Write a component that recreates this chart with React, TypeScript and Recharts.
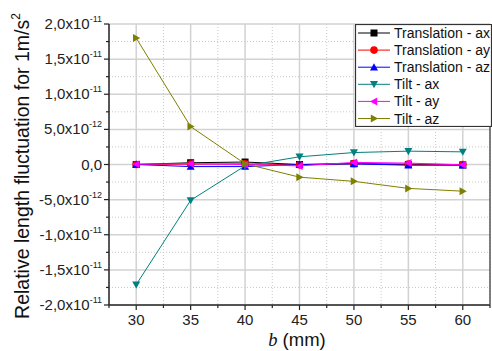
import { CartesianGrid, Legend, Line, LineChart, XAxis, YAxis } from "recharts";

const bValues = [30, 35, 40, 45, 50, 55, 60];

// values in units of 1e-12
const translationAx = [0.0, 0.25, 0.35, 0.0, 0.1, 0.0, -0.05];
const translationAy = [0.0, 0.05, 0.1, -0.05, 0.15, 0.05, 0.0];
const translationAz = [0.0, -0.3, -0.3, 0.0, 0.1, -0.1, -0.1];
const tiltAx = [-17.1, -5.1, -0.2, 1.1, 1.7, 1.9, 1.8];
const tiltAy = [0.05, 0.1, 0.0, -0.2, 0.3, 0.2, -0.05];
const tiltAz = [18.0, 5.4, 0.1, -1.8, -2.4, -3.4, -3.8];

const xMajorTicks = [30, 35, 40, 45, 50, 55, 60];
const xMinorTicks = [27.5, 32.5, 37.5, 42.5, 47.5, 52.5, 57.5, 62.5];
const yMajorTicks = [-20, -15, -10, -5, 0, 5, 10, 15, 20];
const yMinorTicks = [-17.5, -12.5, -7.5, -2.5, 2.5, 7.5, 12.5, 17.5];
const yTickLabels = [
  ["-2,0x10", "-11"],
  ["-1,5x10", "-11"],
  ["-1,0x10", "-11"],
  ["-5,0x10", "-12"],
  ["0,0", ""],
  ["5,0x10", "-12"],
  ["1,0x10", "-11"],
  ["1,5x10", "-11"],
  ["2,0x10", "-11"],
];

const series = [
  { key: "tax", name: "Translation - ax", color: "#000000", shape: "square", values: translationAx },
  { key: "tay", name: "Translation - ay", color: "#ff0000", shape: "circle", values: translationAy },
  { key: "taz", name: "Translation - az", color: "#0000ff", shape: "up", values: translationAz },
  { key: "lax", name: "Tilt - ax", color: "#008080", shape: "down", values: tiltAx },
  { key: "lay", name: "Tilt - ay", color: "#ff00ff", shape: "left", values: tiltAy },
  { key: "laz", name: "Tilt - az", color: "#808000", shape: "right", values: tiltAz },
];

const data = bValues.map((b, i) => {
  const row: Record<string, number> = { b };
  series.forEach((s) => {
    row[s.key] = s.values[i];
  });
  return row;
});

const FONT = "Arial, 'Liberation Sans', sans-serif";

function Marker({ cx, cy, shape, color }: { cx: number; cy: number; shape: string; color: string }) {
  const r = 4;
  if (shape === "square") {
    return <rect x={cx - 3.5} y={cy - 3.5} width={7} height={7} fill={color} />;
  }
  if (shape === "circle") {
    return <circle cx={cx} cy={cy} r={3.8} fill={color} />;
  }
  let pts = "";
  if (shape === "up") pts = `${cx},${cy - r} ${cx - r},${cy + r * 0.8} ${cx + r},${cy + r * 0.8}`;
  if (shape === "down") pts = `${cx},${cy + r} ${cx - r},${cy - r * 0.8} ${cx + r},${cy - r * 0.8}`;
  if (shape === "left") pts = `${cx - r},${cy} ${cx + r * 0.8},${cy - r} ${cx + r * 0.8},${cy + r}`;
  if (shape === "right") pts = `${cx + r},${cy} ${cx - r * 0.8},${cy - r} ${cx - r * 0.8},${cy + r}`;
  return <polygon points={pts} fill={color} />;
}

function LeftTick(props: any) {
  const { x, y, payload } = props;
  const idx = yMajorTicks.indexOf(payload.value);
  const major = idx >= 0;
  return (
    <g>
      <line x1={x - (major ? 5 : 3)} x2={x} y1={y} y2={y} stroke="#222" strokeWidth={1.2} />
      {major ? (
        <text x={x - 7} y={y + 5} textAnchor="end" fontFamily={FONT} fontSize={15} fill="#222">
          <tspan>{yTickLabels[idx][0]}</tspan>
          {yTickLabels[idx][1] ? (
            <tspan dy={-7} fontSize={9}>
              {yTickLabels[idx][1]}
            </tspan>
          ) : null}
        </text>
      ) : null}
    </g>
  );
}

function RightTick(props: any) {
  const { x, y } = props;
  return <line x1={x} x2={x + 3} y1={y} y2={y} stroke="#222" strokeWidth={1.2} />;
}

function BottomTick(props: any) {
  const { x, y, payload } = props;
  const major = xMajorTicks.includes(payload.value);
  return (
    <g>
      <line x1={x} x2={x} y1={y} y2={y + (major ? 5 : 3)} stroke="#222" strokeWidth={1.2} />
      {major ? (
        <text x={x} y={y + 20} textAnchor="middle" fontFamily={FONT} fontSize={15} fill="#222">
          {payload.value}
        </text>
      ) : null}
    </g>
  );
}

function TopTick(props: any) {
  const { x, y, payload } = props;
  const major = xMajorTicks.includes(payload.value);
  return <line x1={x} x2={x} y1={y} y2={y + (major ? 4 : 3)} stroke="#222" strokeWidth={1.2} />;
}

function LegendBox() {
  return (
    <svg width={137} height={103} style={{ display: "block" }}>
      <rect x={0.5} y={0.5} width={136} height={102} fill="#fff" stroke="#333" strokeWidth={1.2} />
      {series.map((s, i) => {
        const cy = 9 + i * 17.1;
        return (
          <g key={s.key}>
            <line x1={3} x2={35} y1={cy} y2={cy} stroke={s.color} strokeWidth={1} />
            <Marker cx={19} cy={cy} shape={s.shape} color={s.color} />
            <text x={39} y={cy + 5} fontFamily={FONT} fontSize={14} fill="#111">
              {s.name}
            </text>
          </g>
        );
      })}
    </svg>
  );
}

const allX = [...xMajorTicks, ...xMinorTicks].sort((a, b) => a - b);
const allY = [...yMajorTicks, ...yMinorTicks].sort((a, b) => a - b);

export default function App() {
  return (
    <div style={{ position: "absolute", left: 0, top: 0, width: 492, height: 351, background: "#fff" }}>
      <LineChart width={492} height={351} data={data} margin={{ top: 24, right: 0, left: 0, bottom: 0 }}>
        <CartesianGrid
          horizontalValues={yMinorTicks}
          verticalValues={xMinorTicks}
          stroke="#c8c8c8"
          strokeDasharray="1 2"
        />
        <CartesianGrid horizontalValues={yMajorTicks} verticalValues={xMajorTicks} stroke="#d2d2d2" strokeWidth={1.5} />
        <XAxis
          dataKey="b"
          type="number"
          domain={[27.5, 62.5]}
          ticks={allX}
          interval={0}
          height={46}
          tickSize={0}
          tickMargin={0}
          tick={<BottomTick />}
          axisLine={{ stroke: "#555", strokeWidth: 2 }}
          label={{
            content: () => (
              <text x={297} y={346} textAnchor="middle" fontFamily={FONT} fontSize={18.5} fill="#111">
                <tspan fontFamily="'Liberation Serif', 'DejaVu Serif', serif" fontStyle="italic">
                  b
                </tspan>
                <tspan> (mm)</tspan>
              </text>
            ),
          }}
        />
        <XAxis
          xAxisId="top"
          orientation="top"
          dataKey="b"
          type="number"
          domain={[27.5, 62.5]}
          ticks={allX}
          interval={0}
          height={0}
          tickSize={0}
          tickMargin={0}
          tick={<TopTick />}
          axisLine={{ stroke: "#555", strokeWidth: 2 }}
        />
        <YAxis
          type="number"
          domain={[-20, 20]}
          ticks={allY}
          interval={0}
          width={109}
          tickSize={0}
          tickMargin={0}
          tick={<LeftTick />}
          axisLine={{ stroke: "#222", strokeWidth: 1.5 }}
          label={{
            content: () => (
              <text
                x={0}
                y={0}
                transform="translate(29, 166) rotate(-90)"
                textAnchor="middle"
                fontFamily={FONT}
                fontSize={19.5}
                fill="#111"
              >
                <tspan>Relative length fluctuation for 1m/s</tspan>
                <tspan dy={-9} fontSize={12}>
                  2
                </tspan>
              </text>
            ),
          }}
        />
        <YAxis
          yAxisId="right"
          orientation="right"
          type="number"
          domain={[-20, 20]}
          ticks={allY}
          interval={0}
          width={2}
          tickSize={0}
          tickMargin={0}
          tick={<RightTick />}
          axisLine={{ stroke: "#555", strokeWidth: 1.5 }}
        />
        <Legend
          layout="vertical"
          align="center"
          verticalAlign="middle"
          wrapperStyle={{ left: 355, top: 24, width: 137, height: 103 }}
          content={() => <LegendBox />}
        />
        {series.map((s) => (
          <Line
            key={s.key}
            type="linear"
            dataKey={s.key}
            name={s.name}
            stroke={s.color}
            strokeWidth={1}
            isAnimationActive={false}
            dot={(p: any) => <Marker key={`${s.key}-${p.index}`} cx={p.cx} cy={p.cy} shape={s.shape} color={s.color} />}
            activeDot={false}
          />
        ))}
      </LineChart>
    </div>
  );
}
